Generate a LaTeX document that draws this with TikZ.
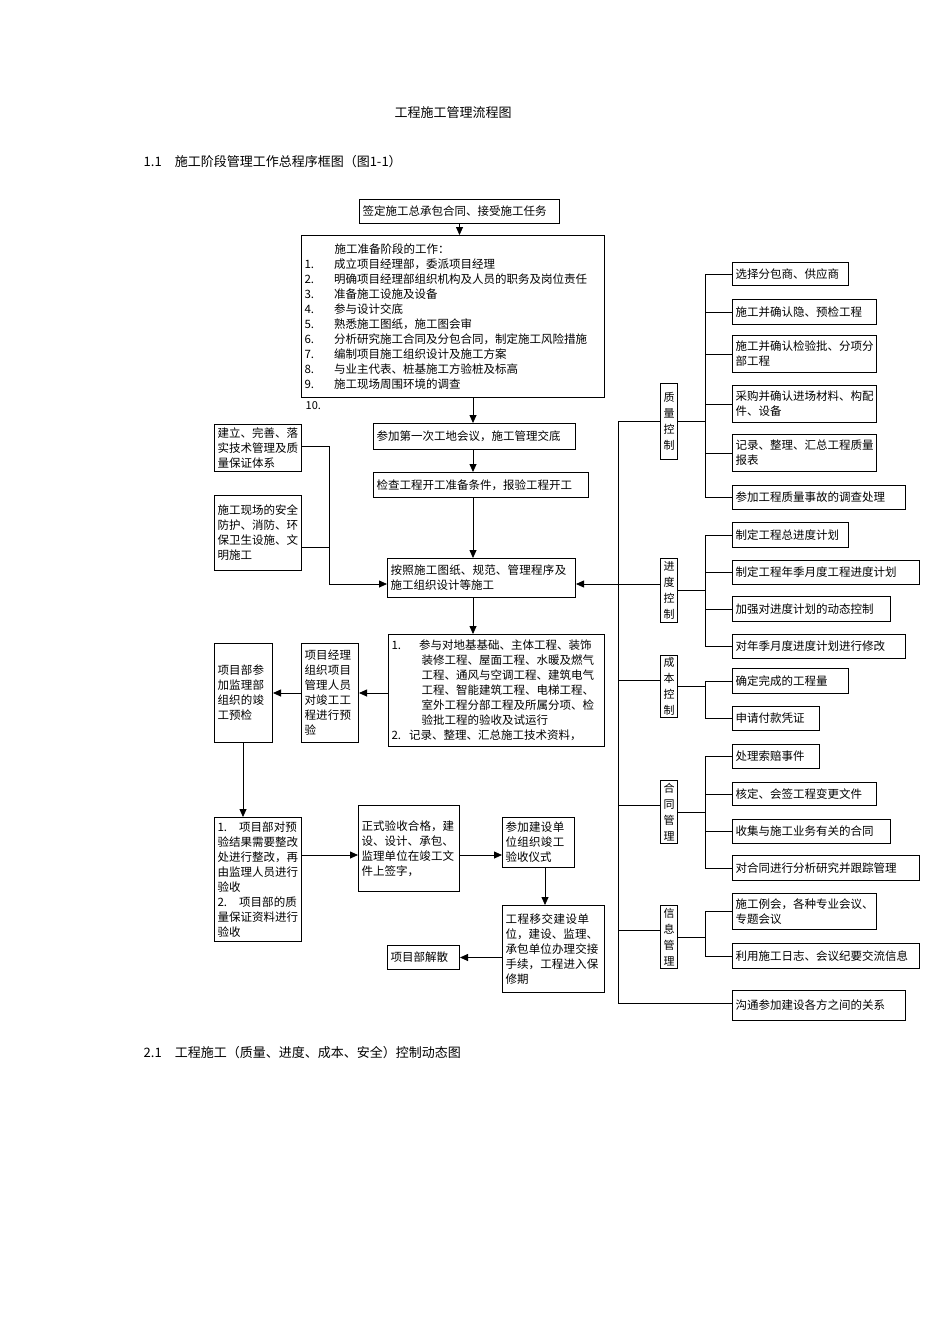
\documentclass[tikz,border=0pt]{standalone}
\usepackage{fontspec}
\setmainfont{Noto Sans CJK SC}
\XeTeXlinebreaklocale "zh"
\XeTeXlinebreakskip=0pt plus 1pt
\usetikzlibrary{arrows.meta}
\begin{document}
\begin{tikzpicture}[x=1pt, y=-1pt, thick,
  box/.style = {draw, line width=1pt, anchor=north west, inner sep=3pt, align=left, font=\fontsize{11.5}{15}\selectfont},
  vbox/.style = {draw, line width=1pt, anchor=north west, inner sep=2pt, align=center, text width=13pt, font=\fontsize{11}{16}\selectfont},
  arr/.style = {-{Triangle[length=8pt,width=7pt]}},
  ln/.style = {line width=0.8pt}]
\useasboundingbox (0,0) rectangle (950,1344);
% headings
\node (title) at (453,113) {\fontsize{13}{15}\selectfont 工程施工管理流程图};
\node[anchor=west] (h1) at (140,162) {\fontsize{13}{15}\selectfont 1.1\quad 施工阶段管理工作总程序框图（图1-1）};
\node[anchor=west] (h2) at (140,1053) {\fontsize{13}{15}\selectfont 2.1\quad 工程施工（质量、进度、成本、安全）控制动态图};
% main flow
\node[box, text width=194pt, minimum height=24pt] (sign) at (359,199) {签定施工总承包合同、接受施工任务};
\node[box, text width=297pt, minimum height=162pt] (prep) at (301,235) {\hspace*{30pt}施工准备阶段的工作：\\
1.\hspace{20pt}成立项目经理部，委派项目经理\\
2.\hspace{20pt}明确项目经理部组织机构及人员的职务及岗位责任\\
3.\hspace{20pt}准备施工设施及设备\\
4.\hspace{20pt}参与设计交底\\
5.\hspace{20pt}熟悉施工图纸，施工图会审\\
6.\hspace{20pt}分析研究施工合同及分包合同，制定施工风险措施\\
7.\hspace{20pt}编制项目施工组织设计及施工方案\\
8.\hspace{20pt}与业主代表、桩基施工方验桩及标高\\
9.\hspace{20pt}施工现场周围环境的调查};
\node[anchor=west, font=\fontsize{11}{14}\selectfont] (ten) at (302,406) {10.};
\node[box, text width=196pt, minimum height=26pt] (meet) at (373,423) {参加第一次工地会议，施工管理交底};
\node[box, text width=209pt, minimum height=25pt] (check) at (373,472) {检查工程开工准备条件，报验工程开工};
\node[box, text width=182pt, minimum height=39pt] (build) at (387,558) {按照施工图纸、规范、管理程序及施工组织设计等施工};
\node[box, text width=210pt, minimum height=112pt] (accept) at (388,634) {1.\hspace{18pt}参与对地基基础、主体工程、装饰\\
\hspace*{30pt}装修工程、屋面工程、水暖及燃气\\
\hspace*{30pt}工程、通风与空调工程、建筑电气\\
\hspace*{30pt}工程、智能建筑工程、电梯工程、\\
\hspace*{30pt}室外工程分部工程及所属分项、检\\
\hspace*{30pt}验批工程的验收及试运行\\
2.\hspace{8pt}记录、整理、汇总施工技术资料，};
\node[box, text width=51pt, minimum height=99pt] (pre) at (301,643) {项目经理组织项目管理人员对竣工工程进行预验};
\node[box, text width=52pt, minimum height=99pt] (joint) at (214,643) {项目部参加监理部组织的竣工预检};
\node[box, text width=81pt, minimum height=124pt] (fix) at (214,817) {1.\hspace{12pt}项目部对预验结果需要整改处进行整改，再由监理人员进行验收\\2.\hspace{12pt}项目部的质量保证资料进行验收};
\node[box, text width=95pt, minimum height=86pt] (formal) at (358,805) {正式验收合格，建设、设计、承包、监理单位在竣工文件上签字，};
\node[box, text width=66pt, minimum height=50pt] (cere) at (502,817) {参加建设单位组织竣工验收仪式};
\node[box, text width=96pt, minimum height=87pt] (hand) at (502,905) {工程移交建设单位，建设、监理、承包单位办理交接手续，工程进入保修期};
\node[box, text width=66pt, minimum height=24pt] (disb) at (387,945) {项目部解散};
% left support
\node[box, text width=81pt, minimum height=47pt] (tech) at (214,424) {建立、完善、落实技术管理及质量保证体系};
\node[box, text width=81pt, minimum height=75pt] (safe) at (214,495) {施工现场的安全防护、消防、环保卫生设施、文明施工};
% main arrows
\draw[arr] (sign.south) -- (sign.south |- prep.north);
\draw[arr] (prep.south -| 473,0) -- (473,423);
\draw[arr] (meet.south -| 473,0) -- (check.north -| 473,0);
\draw[arr] (check.south -| 473,0) -- (build.north -| 473,0);
\draw[arr] (build.south -| 473,0) -- (accept.north -| 473,0);
\draw[arr] (accept.west |- pre.east) -- (pre.east);
\draw[arr] (pre.west) -- (joint.east);
\draw[arr] (joint.south -| 243,0) -- (fix.north -| 243,0);
\draw[arr] (fix.east |- 0,855) -- (formal.west |- 0,855);
\draw[arr] (formal.east |- 0,855) -- (cere.west |- 0,855);
\draw[arr] (cere.south -| 545,0) -- (hand.north -| 545,0);
\draw[arr] (hand.west |- disb.east) -- (disb.east);
\coordinate (jn) at (329,584);
\draw[ln] (tech.east |- 0,446) -| (jn);
\draw[ln] (safe.east |- 0,547) -| (jn);
\draw[arr] (jn) -- (build.west |- jn);
% right control tree
\coordinate (tt) at (618,421);
\coordinate (tb) at (618,1003);
\draw[ln] (tt) -- (tb);
\draw[arr] (tt |- jn) -- (build.east |- jn);
\node[vbox, minimum height=76pt] (qc) at (660,383) {质\\量\\控\\制};
\node[vbox, minimum height=64pt] (sc) at (660,558) {进\\度\\控\\制};
\node[vbox, minimum height=62pt] (cc) at (660,655) {成\\本\\控\\制};
\node[vbox, minimum height=63pt] (hc) at (660,780) {合\\同\\管\\理};
\node[vbox, minimum height=63pt] (ic) at (660,905) {信\\息\\管\\理};
% items
\node[box, text width=110pt, minimum height=23pt] (q1) at (732,262) {选择分包商、供应商};
\node[box, text width=138pt, minimum height=25pt] (q2) at (732,299) {施工并确认隐、预检工程};
\node[box, text width=138pt, minimum height=37pt] (q3) at (732,335) {施工并确认检验批、分项分部工程};
\node[box, text width=138pt, minimum height=37pt] (q4) at (732,385) {采购并确认进场材料、构配件、设备};
\node[box, text width=138pt, minimum height=37pt] (q5) at (732,434) {记录、整理、汇总工程质量报表};
\node[box, text width=167pt, minimum height=24pt] (q6) at (732,485) {参加工程质量事故的调查处理};
\node[box, text width=110pt, minimum height=25pt] (s1) at (732,522) {制定工程总进度计划};
\node[box, text width=181pt, minimum height=24pt] (s2) at (732,560) {制定工程年季月度工程进度计划};
\node[box, text width=152pt, minimum height=25pt] (s3) at (732,596) {加强对进度计划的动态控制};
\node[box, text width=167pt, minimum height=24pt] (s4) at (732,634) {对年季月度进度计划进行修改};
\node[box, text width=110pt, minimum height=25pt] (c1) at (732,668) {确定完成的工程量};
\node[box, text width=81pt, minimum height=24pt] (c2) at (732,706) {申请付款凭证};
\node[box, text width=81pt, minimum height=24pt] (h1b) at (732,744) {处理索赔事件};
\node[box, text width=138pt, minimum height=23pt] (h2b) at (732,782) {核定、会签工程变更文件};
\node[box, text width=152pt, minimum height=24pt] (h3b) at (732,819) {收集与施工业务有关的合同};
\node[box, text width=181pt, minimum height=25pt] (h4b) at (732,855) {对合同进行分析研究并跟踪管理};
\node[box, text width=138pt, minimum height=36pt] (i1) at (732,893) {施工例会，各种专业会议、专题会议};
\node[box, text width=181pt, minimum height=25pt] (i2) at (732,943) {利用施工日志、会议纪要交流信息};
\node[box, text width=167pt, minimum height=30pt] (last) at (732,990) {沟通参加建设各方之间的关系};
% trunk to groups
\draw[ln] (tt) -- (qc.west |- tt);
\draw[ln] (tt |- 0,584) -- (sc.west |- 0,584);
\draw[ln] (tt |- 0,680) -- (cc.west |- 0,680);
\draw[ln] (tt |- 0,805) -- (hc.west |- 0,805);
\draw[ln] (tt |- 0,930) -- (ic.west |- 0,930);
\draw[ln] (tb) -- (last.west |- tb);
% group buses
\coordinate (bus) at (705,0);
\draw[ln] (qc.east) -- (bus |- qc.east);
\draw[ln] (bus |- q1.west) -- (bus |- q6.west);
\foreach \i in {q1,q2,q3,q4,q5,q6} \draw[ln] (bus |- \i.west) -- (\i.west);
\draw[ln] (sc.east) -- (bus |- sc.east);
\draw[ln] (bus |- s1.west) -- (bus |- s4.west);
\foreach \i in {s1,s2,s3,s4} \draw[ln] (bus |- \i.west) -- (\i.west);
\draw[ln] (cc.east) -- (bus |- cc.east);
\draw[ln] (bus |- c1.west) -- (bus |- c2.west);
\foreach \i in {c1,c2} \draw[ln] (bus |- \i.west) -- (\i.west);
\draw[ln] (hc.east) -- (bus |- hc.east);
\draw[ln] (bus |- h1b.west) -- (bus |- h4b.west);
\foreach \i in {h1b,h2b,h3b,h4b} \draw[ln] (bus |- \i.west) -- (\i.west);
\draw[ln] (ic.east) -- (bus |- ic.east);
\draw[ln] (bus |- i1.west) -- (bus |- i2.west);
\foreach \i in {i1,i2} \draw[ln] (bus |- \i.west) -- (\i.west);
\end{tikzpicture}
\end{document}
